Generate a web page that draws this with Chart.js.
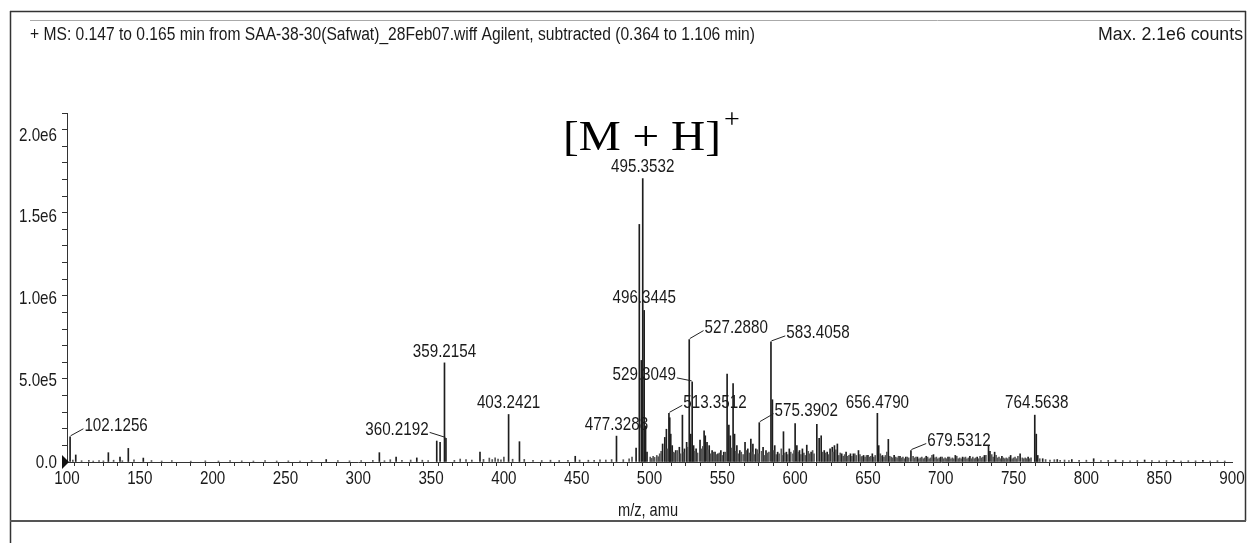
<!DOCTYPE html>
<html>
<head>
<meta charset="utf-8">
<script src="https://cdn.jsdelivr.net/npm/chart.js@4.4.1/dist/chart.umd.min.js"></script>
<style>
  html, body { margin: 0; padding: 0; background: #fff; }
  canvas { display: block; }
</style>
</head>
<body>
<canvas id="espectro" width="1248" height="543"></canvas>
<script>
// picos principais (m/z e intensidade em milhões de contagens)
const peakMz = [
  102.1256, 106.0, 128.4, 136.4, 142.1, 152.4, 278.0, 314.5, 326.0, 340.2,
  353.9, 356.2, 359.2154, 360.2192, 383.6, 403.2421, 410.7, 449.0, 477.3288, 490.8,
  493.0, 494.4, 495.3532, 496.3445, 497.3, 498.3, 509.0, 510.5, 511.6, 513.3512,
  513.9, 514.6, 515.6, 518.0, 520.5, 522.6, 524.0, 525.5, 527.2880, 528.3,
  529.3049, 530.3, 532.0, 534.7, 537.5, 538.3, 539.5, 541.0, 543.0, 545.0,
  547.0, 549.0, 551.0, 553.3, 554.5, 555.5, 557.4, 558.4, 560.0, 562.0,
  565.6, 567.5, 569.6, 571.0, 573.0, 575.3902, 578.0, 580.0, 583.4058, 584.4,
  586.0, 588.0, 592.0, 594.0, 596.0, 600.0, 601.2, 603.0, 605.0, 608.0,
  611.0, 614.9, 616.5, 617.9, 620.0, 622.0, 624.0, 625.5, 627.0, 629.0,
  632.0, 635.0, 638.0, 640.0, 643.5, 647.0, 650.0, 653.0, 656.4790, 657.4,
  660.0, 664.0, 668.0, 672.0, 676.0, 679.5312, 684.0, 690.0, 695.0, 700.0,
  705.0, 710.0, 715.0, 720.0, 725.0, 730.0, 732.8, 733.8, 737.0, 742.0,
  748.0, 754.5, 760.0, 764.5638, 765.6, 766.6, 770.0, 780.0, 790.0, 805.0,
  820.0, 840.0, 860.0, 880.0
];
const peakIntM = [
  0.154, 0.043, 0.057, 0.030, 0.083, 0.024, 0.015, 0.057, 0.030, 0.025,
  0.128, 0.120, 0.605, 0.144, 0.060, 0.290, 0.124, 0.035, 0.158, 0.085,
  1.450, 0.620, 1.730, 0.925, 0.220, 0.060, 0.110, 0.150, 0.200, 0.297,
  0.270, 0.170, 0.100, 0.070, 0.090, 0.286, 0.080, 0.120, 0.747, 0.170,
  0.489, 0.100, 0.080, 0.134, 0.190, 0.160, 0.120, 0.100, 0.070, 0.060,
  0.050, 0.070, 0.060, 0.536, 0.225, 0.160, 0.479, 0.170, 0.100, 0.070,
  0.120, 0.080, 0.140, 0.110, 0.080, 0.240, 0.090, 0.070, 0.733, 0.380,
  0.100, 0.060, 0.185, 0.060, 0.080, 0.235, 0.100, 0.070, 0.080, 0.103,
  0.060, 0.230, 0.145, 0.160, 0.070, 0.060, 0.080, 0.090, 0.100, 0.110,
  0.050, 0.060, 0.050, 0.050, 0.070, 0.040, 0.040, 0.050, 0.297, 0.100,
  0.040, 0.138, 0.040, 0.035, 0.030, 0.070, 0.030, 0.035, 0.045, 0.030,
  0.030, 0.040, 0.030, 0.035, 0.030, 0.040, 0.097, 0.065, 0.060, 0.035,
  0.040, 0.050, 0.030, 0.286, 0.170, 0.040, 0.020, 0.015, 0.015, 0.020,
  0.012, 0.012, 0.010, 0.010
];

// ruído de linha de base (m/z e contagens)
const noiseMz = [
  104, 110, 115, 118, 122, 125, 132, 138, 146, 158,
  165, 172, 185, 195, 204, 212, 220, 228, 236, 244,
  252, 260, 268, 286, 294, 302, 310, 318, 322, 330,
  336, 344, 348, 366, 370, 374, 378, 386, 390, 392,
  394, 396, 398, 400, 406, 414, 420, 426, 432, 438,
  444, 452, 458, 462, 466, 470, 474, 482, 486, 488,
  500.5, 501.5, 502.5, 503.5, 505, 506, 507, 508, 512.3, 516.5,
  517.3, 519.2, 521.3, 523.4, 526.2, 531, 533, 535.8, 536.6, 540.2,
  542, 544, 546, 548, 550, 552, 556.4, 559.2, 561, 563,
  564.3, 566.5, 568.5, 570.3, 572, 574, 575, 577, 579, 581,
  582, 585.2, 587, 589, 590.5, 591.2, 593, 595, 597, 598.5,
  599.2, 602, 604, 606, 607, 609, 610, 612, 613, 619,
  621, 623, 626, 628, 630, 631, 633, 634, 636, 637,
  639, 641, 642, 644.5, 645.5, 646, 648, 649, 651, 652,
  654, 655, 658.5, 659, 661, 662, 663, 665, 666, 667,
  669, 670, 671, 673, 674, 675, 677, 678, 681, 682,
  683, 685, 686, 687, 688, 689, 691, 692, 693, 694,
  696, 697, 698, 699, 701, 702, 703, 704, 706, 707,
  708, 709, 711, 712, 713, 714, 716, 717, 718, 719,
  721, 722, 723, 724, 726, 727, 728, 729, 731, 735,
  736, 738, 739, 740, 741, 743, 744, 745, 746, 747,
  749, 750, 751, 752, 753, 756, 757, 758, 759, 761,
  762, 768, 772, 775, 778, 782, 785, 788, 795, 800,
  810, 815, 825, 830, 835, 845, 850, 855, 865, 870,
  875, 885, 890, 895
];
const noiseInt = [
  1.2e4, 0.8e4, 1.0e4, 0.6e4, 0.9e4, 0.7e4, 1.1e4, 0.8e4, 1.3e4, 0.9e4,
  0.6e4, 0.8e4, 0.5e4, 0.7e4, 0.6e4, 0.9e4, 0.7e4, 0.6e4, 0.8e4, 0.6e4,
  0.7e4, 0.6e4, 0.9e4, 0.8e4, 0.7e4, 0.9e4, 1.0e4, 0.8e4, 1.4e4, 1.0e4,
  1.2e4, 1.1e4, 0.9e4, 1.0e4, 1.8e4, 1.5e4, 1.2e4, 1.6e4, 2.4e4, 1.5e4,
  2.6e4, 1.8e4, 1.3e4, 3.0e4, 1.7e4, 1.6e4, 1.0e4, 0.9e4, 1.1e4, 0.9e4,
  1.0e4, 1.2e4, 1.1e4, 1.0e4, 1.3e4, 1.2e4, 1.5e4, 1.4e4, 2.0e4, 3.0e4,
  3.0e4, 2.2e4, 3.5e4, 2.8e4, 4.0e4, 3.2e4, 5.0e4, 6.5e4, 8.0e4, 6.0e4,
  5.5e4, 7.0e4, 5.0e4, 6.0e4, 9.0e4, 6.5e4, 5.5e4, 8.0e4, 9.5e4, 7.5e4,
  5.0e4, 6.0e4, 4.5e4, 5.5e4, 4.0e4, 6.0e4, 8.5e4, 6.5e4, 5.0e4, 6.0e4,
  4.5e4, 7.0e4, 5.5e4, 6.0e4, 4.5e4, 7.5e4, 5.0e4, 6.5e4, 4.0e4, 5.5e4,
  6.0e4, 7.0e4, 4.5e4, 5.0e4, 8.0e4, 4.0e4, 5.5e4, 4.5e4, 6.0e4, 5.0e4,
  7.0e4, 6.0e4, 4.5e4, 5.5e4, 4.0e4, 6.5e4, 5.0e4, 7.0e4, 5.0e4, 6.0e4,
  5.5e4, 4.5e4, 6.0e4, 7.5e4, 4.0e4, 5.5e4, 3.5e4, 4.5e4, 3.5e4, 4.0e4,
  3.5e4, 5.0e4, 4.0e4, 4.5e4, 3.0e4, 3.5e4, 3.0e4, 4.0e4, 3.0e4, 3.5e4,
  3.0e4, 4.0e4, 5.0e4, 3.5e4, 3.0e4, 4.0e4, 6.0e4, 3.5e4, 3.0e4, 2.5e4,
  3.0e4, 2.5e4, 3.5e4, 2.5e4, 3.0e4, 2.0e4, 3.0e4, 2.5e4, 3.5e4, 2.5e4,
  3.0e4, 2.0e4, 2.5e4, 3.0e4, 2.0e4, 2.5e4, 3.0e4, 2.0e4, 2.5e4, 4.0e4,
  2.5e4, 3.0e4, 2.0e4, 2.5e4, 3.0e4, 2.0e4, 2.5e4, 2.0e4, 3.0e4, 2.0e4,
  2.5e4, 2.0e4, 3.5e4, 2.0e4, 2.5e4, 2.0e4, 2.5e4, 3.0e4, 2.0e4, 2.5e4,
  2.0e4, 3.0e4, 2.0e4, 2.5e4, 2.0e4, 3.5e4, 2.5e4, 3.0e4, 4.0e4, 4.5e4,
  3.0e4, 4.0e4, 2.5e4, 3.0e4, 2.0e4, 2.5e4, 2.0e4, 2.5e4, 2.0e4, 3.0e4,
  2.0e4, 2.5e4, 3.0e4, 2.0e4, 3.5e4, 2.5e4, 2.0e4, 2.5e4, 2.0e4, 2.0e4,
  2.5e4, 2.0e4, 1.5e4, 1.2e4, 1.4e4, 1.0e4, 1.2e4, 0.9e4, 1.0e4, 1.1e4,
  0.8e4, 1.0e4, 0.9e4, 0.7e4, 0.9e4, 0.8e4, 0.7e4, 0.9e4, 0.6e4, 0.8e4,
  0.7e4, 0.6e4, 0.8e4, 0.6e4
];

// picos rotulados
const labelMz = [102.1256, 359.2154, 360.2192, 403.2421, 477.3288, 495.3532, 496.3445,
  513.3512, 527.2880, 529.3049, 575.3902, 583.4058, 656.4790, 679.5312, 764.5638];

// rótulos dos eixos
const xTickValues = [100, 150, 200, 250, 300, 350, 400, 450, 500, 550, 600, 650, 700, 750, 800, 850, 900];
const yTickValues = [0, 5e5, 1e6, 1.5e6, 2e6];
const yTickLabels = ['0.0', '5.0e5', '1.0e6', '1.5e6', '2.0e6'];

// textos
const titleText = '+ MS: 0.147 to 0.165 min from SAA-38-30(Safwat)_28Feb07.wiff Agilent, subtracted (0.364 to 1.106 min)';
const maxText = 'Max. 2.1e6 counts';
const xTitle = 'm/z, amu';
const ionText = '[M + H]';

// deslocamento dos rótulos em px (dx, dy, com linha guia)
const labelOffsets = [
  [46, -11, 1], [0, -11, 0], [-49, -9, 1], [0, -12, 0], [0, -11, 0], [0, -12, 0], [0, -13, 0],
  [46, -11, 1], [47, -12, 1], [-48, -7, 1], [47, -12, 1], [47, -9, 1], [0, -11, 0], [48, -10, 1], [2, -12, 0]
];

const SANS = '"Liberation Sans", Arial, sans-serif';
const NARROW = 0.8; // fonte estreita simulada

function fitText(ctx, txt, x, y, width, align) {
  const w = ctx.measureText(txt).width;
  const s = width / w;
  ctx.save();
  ctx.translate(align === 'right' ? x - width : x, y);
  ctx.scale(s, 1);
  ctx.textAlign = 'left';
  ctx.fillText(txt, 0, 0);
  ctx.restore();
}

// texto condensado horizontalmente
function narrowText(ctx, txt, x, y, align) {
  const w = ctx.measureText(txt).width * NARROW;
  let left = x;
  if (align === 'center') left = x - w / 2;
  if (align === 'right') left = x - w;
  ctx.save();
  ctx.translate(left, y);
  ctx.scale(NARROW, 1);
  ctx.textAlign = 'left';
  ctx.fillText(txt, 0, 0);
  ctx.restore();
  return w;
}

const moldura = {
  id: 'moldura',
  beforeDraw(chart) {
    const c = chart.ctx;
    c.save();
    c.fillStyle = '#fff';
    c.fillRect(0, 0, chart.width, chart.height);
    c.restore();
  },
  afterDraw(chart) {
    const c = chart.ctx;
    const xs = chart.scales.x, ys = chart.scales.y;
    c.save();
    // bordas
    c.strokeStyle = '#333';
    c.lineWidth = 1.5;
    c.beginPath();
    c.moveTo(10, 11.5); c.lineTo(1246, 11.5);
    c.moveTo(10.5, 11); c.lineTo(10.5, 543);
    c.moveTo(1245.5, 11); c.lineTo(1245.5, 521);
    c.stroke();
    c.lineWidth = 2;
    c.strokeStyle = '#555';
    c.beginPath();
    c.moveTo(10, 521); c.lineTo(1246, 521);
    c.stroke();
    c.lineWidth = 1;
    c.strokeStyle = '#aaa';
    c.beginPath();
    c.moveTo(30, 20.5); c.lineTo(1240, 20.5);
    c.stroke();

    // cabeçalho
    c.fillStyle = '#1a1a1a';
    c.textBaseline = 'alphabetic';
    c.font = '18px ' + SANS;
    fitText(c, titleText, 30, 40, 725, 'left');
    fitText(c, maxText, 1243, 40, 145, 'right');

    // rótulos dos eixos
    c.font = '19px ' + SANS;
    c.textBaseline = 'middle';
    xTickValues.forEach(v => {
      narrowText(c, String(v), xs.getPixelForValue(v), 479, 'center');
    });
    yTickValues.forEach((v, i) => {
      narrowText(c, yTickLabels[i], 57, ys.getPixelForValue(v) + 1, 'right');
    });
    c.textBaseline = 'alphabetic';
    fitText(c, xTitle, 618, 516, 60, 'left');

    // marcador na origem
    c.fillStyle = '#111';
    c.beginPath();
    c.moveTo(62, 455); c.lineTo(69, 462); c.lineTo(62, 469);
    c.closePath();
    c.fill();

    // íon molecular
    c.fillStyle = '#000';
    c.font = '42px "Liberation Serif", "DejaVu Serif", serif';
    fitText(c, ionText, 563, 150, 158, 'left');
    c.font = '28px "Liberation Serif", "DejaVu Serif", serif';
    c.fillText('+', 724, 128);

    // rótulos dos picos
    c.font = '19px ' + SANS;
    c.textBaseline = 'middle';
    c.strokeStyle = '#222';
    c.lineWidth = 1;
    labelMz.forEach((mz, i) => {
      const idx = peakMz.indexOf(mz);
      const ax = xs.getPixelForValue(mz);
      const ay = ys.getPixelForValue(peakIntM[idx] * 1e6);
      const [dx, dy, guia] = labelOffsets[i];
      const cx = ax + dx, cy = ay + dy;
      c.fillStyle = '#1a1a1a';
      const w = narrowText(c, mz.toFixed(4), cx, cy, 'center');
      if (guia) {
        const ex = dx > 0 ? cx - w / 2 - 1 : cx + w / 2 + 1;
        c.beginPath();
        c.moveTo(ax + (dx > 0 ? 0.5 : -0.5), ay - 1);
        c.lineTo(ex, cy + 3);
        c.stroke();
      }
    });
    c.restore();
  }
};

const ctx = document.getElementById('espectro').getContext('2d');
new Chart(ctx, {
  type: 'bar',
  data: {
    datasets: [
      {
        data: noiseMz.map((m, i) => ({ x: m, y: noiseInt[i] })),
        backgroundColor: '#555',
        barThickness: 1,
        grouped: false
      },
      {
        data: peakMz.map((m, i) => ({ x: m, y: peakIntM[i] * 1e6 })),
        backgroundColor: '#1e1e1e',
        barThickness: 1,
        grouped: false
      }
    ]
  },
  options: {
    responsive: false,
    animation: false,
    layout: { padding: { left: 10, right: 16, top: 113, bottom: 51 } },
    plugins: { legend: { display: false }, tooltip: { enabled: false } },
    scales: {
      x: {
        type: 'linear',
        offset: false,
        min: 100,
        max: 900,
        afterFit: s => { s.height = 30; },
        border: { display: true, color: '#333', width: 1 },
        grid: { drawOnChartArea: false, drawTicks: true, tickLength: 4, color: '#333' },
        ticks: { stepSize: 10, autoSkip: false, maxRotation: 0, display: false }
      },
      y: {
        min: 0,
        max: 2.13e6,
        afterFit: s => { s.width = 57; },
        border: { display: true, color: '#333', width: 1 },
        grid: { drawOnChartArea: false, drawTicks: true, tickLength: 5, color: '#333' },
        ticks: { stepSize: 1e5, autoSkip: false, display: false }
      }
    }
  },
  plugins: [moldura]
});
</script>
</body>
</html>
